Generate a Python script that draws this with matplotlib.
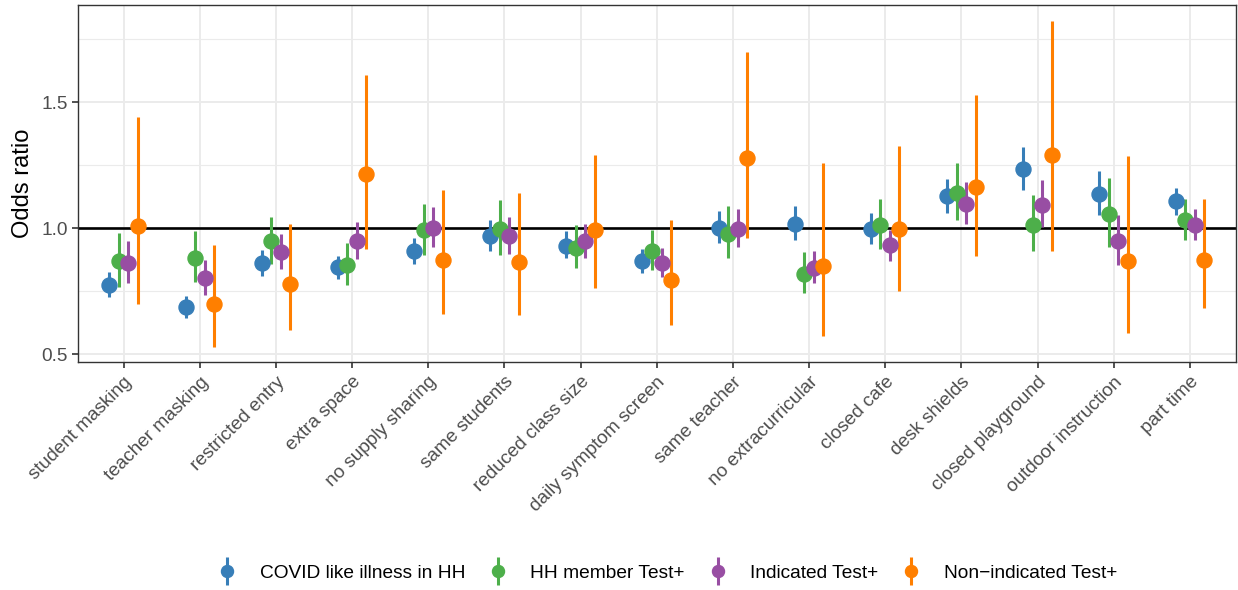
import matplotlib
matplotlib.use("Agg")
import matplotlib.pyplot as plt
from matplotlib.legend_handler import HandlerErrorbar
from matplotlib.container import ErrorbarContainer
import numpy as np

plt.rcParams['font.family'] = ['Liberation Sans', 'DejaVu Sans']

categories = ["student masking", "teacher masking", "restricted entry", "extra space",
              "no supply sharing", "same students", "reduced class size",
              "daily symptom screen", "same teacher", "no extracurricular",
              "closed cafe", "desk shields", "closed playground",
              "outdoor instruction", "part time"]

series_names = ["COVID like illness in HH", "HH member Test+", "Indicated Test+",
                "Non\u2212indicated Test+"]
series_colors = ["#377EB8", "#4DAF4A", "#984EA3", "#FF7F00"]

covid_est = [0.775, 0.686, 0.861, 0.845, 0.911, 0.967, 0.931, 0.868, 1.002, 1.017, 0.997, 1.126, 1.233, 1.137, 1.106]
covid_lo = [0.726, 0.642, 0.812, 0.799, 0.856, 0.909, 0.881, 0.821, 0.940, 0.951, 0.938, 1.061, 1.153, 1.054, 1.051]
covid_hi = [0.825, 0.730, 0.914, 0.891, 0.962, 1.031, 0.987, 0.918, 1.068, 1.087, 1.061, 1.196, 1.322, 1.226, 1.161]

hhm_est = [0.868, 0.881, 0.947, 0.854, 0.994, 0.996, 0.922, 0.909, 0.978, 0.819, 1.011, 1.139, 1.013, 1.057, 1.033]
hhm_lo = [0.768, 0.785, 0.858, 0.775, 0.895, 0.895, 0.841, 0.835, 0.882, 0.742, 0.918, 1.033, 0.909, 0.924, 0.954]
hhm_hi = [0.980, 0.988, 1.044, 0.940, 1.097, 1.110, 1.011, 0.991, 1.086, 0.905, 1.114, 1.260, 1.132, 1.200, 1.117]

ind_est = [0.861, 0.801, 0.905, 0.948, 1.002, 0.967, 0.948, 0.861, 0.997, 0.843, 0.934, 1.097, 1.090, 0.948, 1.011]
ind_lo = [0.781, 0.735, 0.839, 0.878, 0.927, 0.898, 0.882, 0.805, 0.924, 0.781, 0.868, 1.017, 1.004, 0.854, 0.954]
ind_hi = [0.947, 0.874, 0.978, 1.024, 1.083, 1.044, 1.015, 0.922, 1.077, 0.911, 0.994, 1.183, 1.190, 1.051, 1.077]

nonind_est = [1.007, 0.699, 0.779, 1.216, 0.872, 0.865, 0.991, 0.795, 1.280, 0.848, 0.995, 1.163, 1.289, 0.868, 0.874]
nonind_lo = [0.699, 0.527, 0.596, 0.918, 0.660, 0.657, 0.763, 0.617, 0.962, 0.573, 0.752, 0.888, 0.911, 0.586, 0.684]
nonind_hi = [1.441, 0.934, 1.015, 1.607, 1.150, 1.139, 1.289, 1.031, 1.700, 1.257, 1.325, 1.528, 1.822, 1.287, 1.117]

y_ticks = [0.5, 1.0, 1.5]
y_minor = [0.75, 1.25, 1.75]

series = [(covid_est, covid_lo, covid_hi), (hhm_est, hhm_lo, hhm_hi),
          (ind_est, ind_lo, ind_hi), (nonind_est, nonind_lo, nonind_hi)]

fig = plt.figure(figsize=(12.38, 5.90), dpi=100)
ax = fig.add_axes([0.063, 0.386, 0.935, 0.6055])

x = np.arange(1, len(categories) + 1)
dodge = 0.5
offsets = [(-1.5 + i) * dodge / 4 for i in range(4)]

ax.axhline(1.0, color="black", lw=1.9, zorder=2)

for (est, lo, hi), name, col, off in zip(series, series_names, series_colors, offsets):
    est = np.array(est); lo = np.array(lo); hi = np.array(hi)
    ax.errorbar(x + off, est, yerr=[est - lo, hi - est], fmt='o', color=col,
                ecolor=col, elinewidth=2.2, markersize=10.8, capsize=0,
                label=name, zorder=3)

ax.set_xlim(0.4, len(categories) + 0.6)
ax.set_ylim(0.468, 1.885)
ax.set_yticks(y_ticks)
ax.set_yticklabels([f"{v:.1f}" for v in y_ticks])
ax.set_yticks(y_minor, minor=True)
ax.set_xticks(x)
ax.set_xticklabels(categories, rotation=45, ha="right", rotation_mode="anchor")

ax.grid(True, which="major", color="#EBEBEB", lw=1.4, zorder=0)
ax.grid(True, which="minor", axis="y", color="#EBEBEB", lw=0.8, zorder=0)
ax.set_axisbelow(True)

for s in ax.spines.values():
    s.set_color("#333333")
    s.set_linewidth(1.0)

ax.tick_params(axis="both", which="major", colors="#333333", length=4, width=1.2,
               labelsize=13.7, labelcolor="#4D4D4D")
ax.tick_params(axis="y", which="minor", length=0)
ax.tick_params(axis="x", pad=4)

ax.set_ylabel("Odds ratio", fontsize=17, color="black", labelpad=5)

handles, labels = ax.get_legend_handles_labels()
leg = fig.legend(handles, labels, loc="center", bbox_to_anchor=(0.539, 0.029), ncol=4,
                 frameon=False, fontsize=13.8, handletextpad=1.2, columnspacing=1.2,
                 handlelength=1.0, markerscale=0.8,
                 handler_map={ErrorbarContainer: HandlerErrorbar(xerr_size=0.5, yerr_size=0.75)})

fig.savefig("out.png", dpi=100)
